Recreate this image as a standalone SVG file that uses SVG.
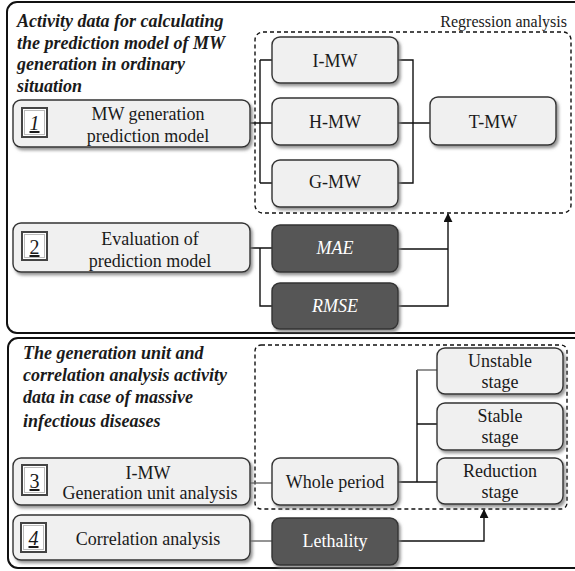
<svg xmlns="http://www.w3.org/2000/svg" width="575" height="571" viewBox="0 0 575 571">
<defs>
<filter id="sh" x="-10%" y="-10%" width="130%" height="140%">
<feDropShadow dx="2" dy="2.5" stdDeviation="1.5" flood-color="#777" flood-opacity="0.8"/>
</filter>
<marker id="arr" viewBox="0 0 10 10" refX="9" refY="5" markerWidth="9" markerHeight="9" orient="auto" markerUnits="userSpaceOnUse">
<path d="M0,0 L10,5 L0,10 z" fill="#111"/>
</marker>
</defs>
<style>
svg text{font-family:'Liberation Serif',serif !important;fill:#1a1a1a}
.t{font-size:18px;text-anchor:middle}
.w{fill:#fff}
.i{font-style:italic}
.title{font-size:18px;font-style:italic;font-weight:bold}
.box{fill:#f0f0f0;stroke:#333;stroke-width:1.4;filter:url(#sh)}
.dark{fill:#565656;stroke:#333;stroke-width:1.4;filter:url(#sh)}
.panel{fill:#fff;stroke:#111;stroke-width:2}
.dash{fill:none;stroke:#111;stroke-width:1.4;stroke-dasharray:4,3}
.num{fill:#fff;stroke:#444;stroke-width:2}
.numin{fill:none;stroke:#bbb;stroke-width:1}
.n{font-size:20px;text-anchor:middle;text-decoration:underline}
.c{fill:none;stroke:#111;stroke-width:1.4}
.g{fill:none;stroke:#666;stroke-width:1.4}
</style>

<g id="panel-top">
<rect class="panel" x="7" y="2" width="590" height="331" rx="10"/>
<text class="title" style="font-family:'Liberation Serif',serif" x="17" y="27">Activity data for calculating</text>
<text class="title" style="font-family:'Liberation Serif',serif" x="17" y="48.5">the prediction model of MW</text>
<text class="title" style="font-family:'Liberation Serif',serif" x="17" y="70">generation in ordinary</text>
<text class="title" style="font-family:'Liberation Serif',serif" x="17" y="91.5">situation</text>
</g>
<g id="panel-bottom">
<rect class="panel" x="8" y="338" width="590" height="230" rx="10"/>
<text class="title" style="font-family:'Liberation Serif',serif" x="23" y="359">The generation unit and</text>
<text class="title" style="font-family:'Liberation Serif',serif" x="23" y="381">correlation analysis activity</text>
<text class="title" style="font-family:'Liberation Serif',serif" x="23" y="403">data in case of massive</text>
<text class="title" style="font-family:'Liberation Serif',serif" x="23" y="427">infectious diseases</text>
</g>

<g id="regression-group">
<rect class="dash" x="255" y="32" width="316" height="181" rx="8"/>
<text style="font-family:'Liberation Serif',serif;font-size:16px;text-anchor:end" x="567" y="27">Regression analysis</text>
</g>
<g id="stage-group">
<rect class="dash" x="255" y="345" width="312" height="164" rx="6"/>
</g>

<g id="connectors">
<path class="c" d="M250,123 H272 M260,60 V183 M260,60 H272 M260,183 H272"/>
<path class="c" d="M398,60 H413 V183 H398 M398,123 H430"/>
<path class="c" d="M250,248 H272 M260,248 V306 H272"/>
<path class="c" d="M398,249 H448 M398,306 H448 V214" marker-end="url(#arr)"/>
<path class="g" d="M250,483 H272"/>
<path class="c" d="M398,482 H437 M417,482 V370 M417,424 H437"/>
<path class="g" d="M417,370 H437"/>
<path class="g" d="M250,541 H272"/>
<path class="c" d="M398,541 H484 V510" marker-end="url(#arr)"/>
</g>

<g id="node-1">
<rect class="box" x="13" y="100" width="237" height="47" rx="8"/>
<rect class="num" x="22" y="108" width="25" height="29"/>
<rect class="numin" x="24.5" y="110.5" width="20" height="24"/>
<text class="n i" style="font-family:'Liberation Serif',serif" x="34.5" y="130">1</text>
<text class="t" style="font-family:'Liberation Serif',serif" x="148" y="120">MW generation</text>
<text class="t" style="font-family:'Liberation Serif',serif" x="148" y="142">prediction model</text>
</g>
<g id="node-imw">
<rect class="box" x="272" y="37" width="126" height="46" rx="8"/>
<text class="t" style="font-family:'Liberation Serif',serif" x="335" y="67">I-MW</text>
</g>
<g id="node-hmw">
<rect class="box" x="272" y="98" width="126" height="47" rx="8"/>
<text class="t" style="font-family:'Liberation Serif',serif" x="335" y="128">H-MW</text>
</g>
<g id="node-gmw">
<rect class="box" x="272" y="160" width="126" height="47" rx="8"/>
<text class="t" style="font-family:'Liberation Serif',serif" x="335" y="188">G-MW</text>
</g>
<g id="node-tmw">
<rect class="box" x="430" y="97" width="126" height="48" rx="8"/>
<text class="t" style="font-family:'Liberation Serif',serif" x="493" y="128">T-MW</text>
</g>

<g id="node-2">
<rect class="box" x="13" y="223" width="237" height="49" rx="8"/>
<rect class="num" x="22" y="232" width="25" height="28"/>
<rect class="numin" x="24.5" y="234.5" width="20" height="23"/>
<text class="n" style="font-family:'Liberation Serif',serif" x="34.5" y="254">2</text>
<text class="t" style="font-family:'Liberation Serif',serif" x="150" y="245">Evaluation of</text>
<text class="t" style="font-family:'Liberation Serif',serif" x="150" y="267">prediction model</text>
</g>
<g id="node-mae">
<rect class="dark" x="272" y="225" width="126" height="47" rx="8"/>
<text class="t w i" style="font-family:'Liberation Serif',serif" x="335" y="254">MAE</text>
</g>
<g id="node-rmse">
<rect class="dark" x="272" y="283" width="126" height="46" rx="8"/>
<text class="t w i" style="font-family:'Liberation Serif',serif" x="335" y="312">RMSE</text>
</g>

<g id="node-3">
<rect class="box" x="13" y="458" width="237" height="47" rx="8"/>
<rect class="num" x="22" y="465" width="25" height="30"/>
<rect class="numin" x="24.5" y="467.5" width="20" height="25"/>
<text class="n" style="font-family:'Liberation Serif',serif" x="34.5" y="488">3</text>
<text class="t" style="font-family:'Liberation Serif',serif" x="148" y="479">I-MW</text>
<text class="t" style="font-family:'Liberation Serif',serif" x="150" y="499">Generation unit analysis</text>
</g>
<g id="node-whole">
<rect class="box" x="272" y="458" width="126" height="47" rx="8"/>
<text class="t" style="font-family:'Liberation Serif',serif" x="335" y="488">Whole period</text>
</g>
<g id="node-unstable">
<rect class="box" x="437" y="348" width="126" height="46" rx="8"/>
<text class="t" style="font-family:'Liberation Serif',serif" x="500" y="367">Unstable</text>
<text class="t" style="font-family:'Liberation Serif',serif" x="500" y="388">stage</text>
</g>
<g id="node-stable">
<rect class="box" x="437" y="403" width="126" height="47" rx="8"/>
<text class="t" style="font-family:'Liberation Serif',serif" x="500" y="422">Stable</text>
<text class="t" style="font-family:'Liberation Serif',serif" x="500" y="443">stage</text>
</g>
<g id="node-reduction">
<rect class="box" x="437" y="458" width="126" height="46" rx="8"/>
<text class="t" style="font-family:'Liberation Serif',serif" x="500" y="477">Reduction</text>
<text class="t" style="font-family:'Liberation Serif',serif" x="500" y="498">stage</text>
</g>

<g id="node-4">
<rect class="box" x="13" y="515" width="237" height="45" rx="8"/>
<rect class="num" x="21" y="523" width="25" height="29"/>
<rect class="numin" x="23.5" y="525.5" width="20" height="24"/>
<text class="n i" style="font-family:'Liberation Serif',serif" x="33.5" y="545">4</text>
<text class="t" style="font-family:'Liberation Serif',serif" x="148" y="545">Correlation analysis</text>
</g>
<g id="node-lethality">
<rect class="dark" x="272" y="518" width="126" height="47" rx="8"/>
<text class="t w" style="font-family:'Liberation Serif',serif" x="335" y="547">Lethality</text>
</g>
</svg>
